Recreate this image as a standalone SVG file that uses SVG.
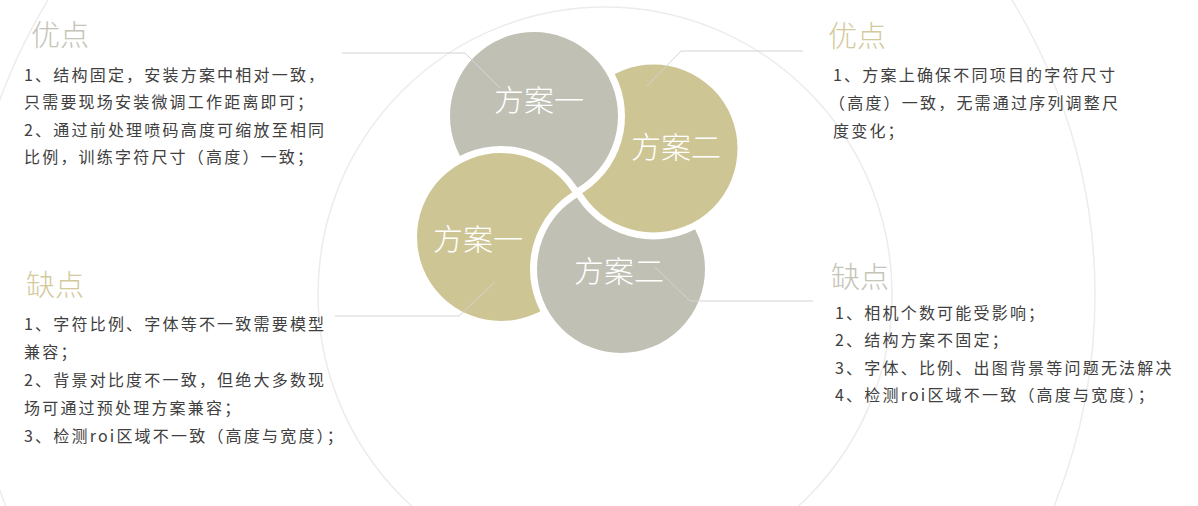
<svg xmlns="http://www.w3.org/2000/svg" width="1198" height="506" viewBox="0 0 1198 506">
<style>
.arc{fill:none;stroke:#ececec;stroke-width:1.5}
.gray{fill:#c0c0b4;stroke:#fff;stroke-width:7}
.tan{fill:#cec594;stroke:#fff;stroke-width:7}
.lbl{font-family:"Noto Sans CJK SC","Noto Sans",sans-serif;font-size:30px;font-weight:300;fill:#fff;text-anchor:middle}
.ttl{font-family:"Noto Sans CJK SC","Noto Sans",sans-serif;font-size:29px;font-weight:300}
.tg{fill:#c4c4b8}
.tt{fill:#d3ca9c}
.body{font-family:"Noto Sans CJK SC","Noto Sans",sans-serif;font-size:16px;fill:#404040;letter-spacing:2.2px}
.conn{fill:none;stroke:#d4d4d4;stroke-width:1}
</style>
<defs>
<mask id="m-c1" maskUnits="userSpaceOnUse" x="0" y="0" width="1198" height="506">
<rect x="0" y="0" width="1198" height="506" fill="#fff"/>
<circle cx="501" cy="237" r="91" fill="#000"/>
</mask>
</defs>
<rect width="1198" height="506" fill="#fff"/>
<g id="background-arcs">
<circle class="arc" cx="605" cy="294" r="287"/>
<circle class="arc" cx="530" cy="295" r="565"/>
</g>
<g id="node-plan1-bottom">
<circle class="tan" cx="501" cy="237" r="87.5"/>
<text class="lbl" x="478" y="250">方案一</text>
</g>
<g id="node-plan2-bottom">
<circle class="gray" cx="621" cy="269" r="87.5"/>
<text class="lbl" x="619" y="282">方案二</text>
</g>
<g id="node-plan2-top">
<circle class="tan" cx="653.5" cy="148.5" r="87.5"/>
<text class="lbl" x="676" y="157.5">方案二</text>
</g>
<g id="node-plan1-top">
<circle class="gray" cx="534" cy="116" r="87.5" mask="url(#m-c1)"/>
<text class="lbl" x="539" y="110.5">方案一</text>
</g>
<g id="connectors">
<polyline class="conn" points="342,53 465,53 500,88"/>
<polyline class="conn" points="647,86 681,51 803,51"/>
<polyline class="conn" points="495,282 459,316 335,316"/>
<polyline class="conn" points="655,267 690,301 813,301"/>
</g>
<g id="node-pros-left">
<text class="ttl tg" x="31" y="46">优点</text>
<text class="body" x="24"><tspan x="24" y="80.5">1、结构固定，安装方案中相对一致，</tspan><tspan x="24" y="108">只需要现场安装微调工作距离即可；</tspan><tspan x="24" y="135.5">2、通过前处理喷码高度可缩放至相同</tspan><tspan x="24" y="163">比例，训练字符尺寸（高度）一致；</tspan></text>
</g>
<g id="node-pros-right">
<text class="ttl tt" x="828" y="47">优点</text>
<text class="body"><tspan x="833" y="81">1、方案上确保不同项目的字符尺寸</tspan><tspan x="829" y="109">（高度）一致，无需通过序列调整尺</tspan><tspan x="833" y="137">度变化；</tspan></text>
</g>
<g id="node-cons-left">
<text class="ttl tt" x="26" y="296">缺点</text>
<text class="body"><tspan x="24" y="330">1、字符比例、字体等不一致需要模型</tspan><tspan x="24" y="358">兼容；</tspan><tspan x="24" y="386">2、背景对比度不一致，但绝大多数现</tspan><tspan x="24" y="414">场可通过预处理方案兼容；</tspan><tspan x="24" y="442">3、检测roi区域不一致（高度与宽度）；</tspan></text>
</g>
<g id="node-cons-right">
<text class="ttl tg" x="831" y="288">缺点</text>
<text class="body"><tspan x="835" y="318.5">1、相机个数可能受影响；</tspan><tspan x="835" y="346">2、结构方案不固定；</tspan><tspan x="835" y="373.5">3、字体、比例、出图背景等问题无法解决</tspan><tspan x="835" y="401">4、检测roi区域不一致（高度与宽度）；</tspan></text>
</g>
</svg>
